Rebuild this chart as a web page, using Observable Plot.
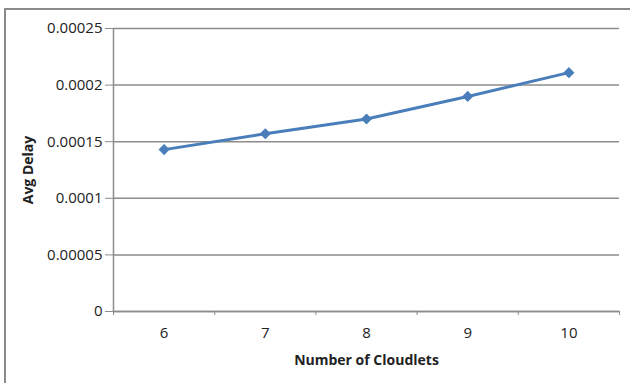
<!DOCTYPE html>
<html>
<head>
<meta charset="utf-8">
<script src="https://cdn.jsdelivr.net/npm/d3@7"></script>
<script src="https://cdn.jsdelivr.net/npm/@observablehq/plot@0.6"></script>
<style>
  html, body { margin: 0; padding: 0; background: #fff; }
  #wrap { position: relative; width: 630px; height: 383px; overflow: hidden; }
  #edge { position: absolute; left: 4px; top: 8px; right: -10px; bottom: -10px;
          border-top: 2px solid #8a8a8a; border-left: 2px solid #8a8a8a; pointer-events: none; }
</style>
</head>
<body>
<div id="wrap"><div id="edge"></div></div>
<script>
// Average delay per number of cloudlets
const cloudlets = [6, 7, 8, 9, 10];
const avgDelay = [0.000143, 0.000157, 0.000170, 0.000190, 0.000211];
const yTicks = [0, 0.00005, 0.0001, 0.00015, 0.0002, 0.00025];
const xTitle = "Number of Cloudlets";
const yTitle = "Avg Delay";

const rows = cloudlets.map((n, i) => ({n, delay: avgDelay[i]}));
// category boundaries for the x tick marks
const bounds = [...cloudlets.map(n => n - 0.5), cloudlets[cloudlets.length - 1] + 0.5];

const grey = "#8c8c8c";
const blue = "#4a7ebb";
const ink = "#222";

const chart = Plot.plot({
  width: 630,
  height: 383,
  marginLeft: 113,
  marginRight: 11,
  marginTop: 28,
  marginBottom: 72,
  x: {domain: [bounds[0], bounds[bounds.length - 1]]},
  y: {domain: [yTicks[0], yTicks[yTicks.length - 1]]},
  style: {fontFamily: "'Open Sans', sans-serif", background: "transparent", color: ink},
  marks: [
    Plot.gridY(yTicks, {stroke: grey, strokeOpacity: 1, strokeWidth: 1.5}),
    Plot.ruleX([bounds[0]], {stroke: grey, strokeWidth: 1.5}),
    Plot.ruleY([0], {stroke: grey, strokeWidth: 1.5}),
    Plot.axisY(yTicks, {tickSize: 8, tickPadding: 3, tickFormat: d => String(d), stroke: grey, fill: ink, fontSize: 15, label: null}),
    Plot.axisX(bounds, {tickSize: 4, tickFormat: () => "", stroke: grey, label: null}),
    Plot.axisX(cloudlets, {tickSize: 0, tickPadding: 16, tickFormat: d => String(d), fill: ink, fontSize: 15, label: null}),
    Plot.text([xTitle], {frameAnchor: "bottom", dy: 53, fontWeight: "bold", fontSize: 14, fill: ink}),
    Plot.text([yTitle], {frameAnchor: "left", textAnchor: "middle", dx: -85, rotate: -90, fontWeight: "bold", fontSize: 14, fill: ink}),
    Plot.line(rows, {x: "n", y: "delay", stroke: blue, strokeWidth: 3}),
    Plot.dot(rows, {x: "n", y: "delay", symbol: "diamond2", r: 5, fill: blue, stroke: null})
  ]
});
document.getElementById("wrap").prepend(chart);
</script>
</body>
</html>
